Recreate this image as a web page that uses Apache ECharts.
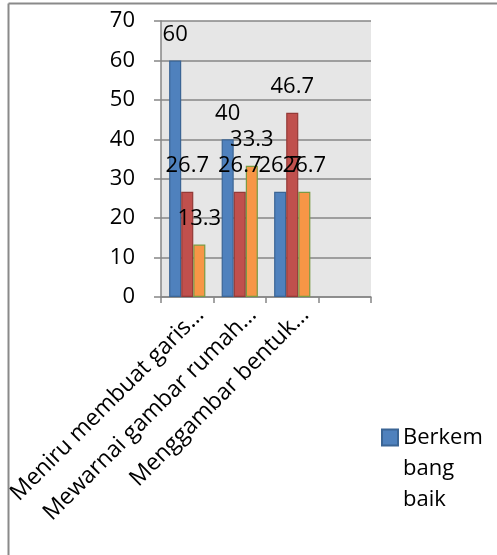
<!DOCTYPE html>
<html>
<head>
<meta charset="utf-8">
<style>
  html, body { margin: 0; padding: 0; background: #ffffff; }
  #chart { width: 497px; height: 555px; }
</style>
<script src="https://cdn.jsdelivr.net/npm/echarts@6/dist/echarts.min.js"></script>
</head>
<body>
<div id="chart"></div>
<script>
// Skill categories on the x axis (the fourth slot is left blank)
const categories = ['Meniru membuat garis…', 'Mewarnai gambar rumah…', 'Menggambar bentuk…', ''];

// Percentages per assessment level
const seriesNames = ['Berkembang baik', 'Mulai berkembang', 'Belum berkembang'];
const valuesBaik = [60, 40, 26.7, null];
const valuesMulai = [26.7, 26.7, 46.7, null];
const valuesBelum = [13.3, 33.3, 26.7, null];

// Y axis scale
const yMin = 0;
const yMax = 70;
const yStep = 10;

// Legend entry wrapped over three lines; the two leading blank lines keep
// the first text line level with the swatch.
const legendLabel = '\n\nBerkem\nbang\nbaik';

const FONT = '"Open Sans", "Noto Sans", sans-serif';
const AXIS_GRAY = '#868686';

const fills = ['#4f81bd', '#c0504d', '#f79646'];
const edges = ['#3b6595', '#943a37', '#7a9a43'];
const allValues = [valuesBaik, valuesMulai, valuesBelum];

const chart = echarts.init(document.getElementById('chart'), null, { renderer: 'canvas' });

const series = allValues.map((vals, i) => ({
  name: seriesNames[i],
  type: 'bar',
  data: vals,
  barGap: '0%',
  barCategoryGap: '31%',
  itemStyle: { color: fills[i], borderColor: edges[i], borderWidth: 1.2 },
  label: {
    show: true,
    position: 'top',
    distance: 15,
    fontFamily: FONT,
    fontSize: 22,
    color: '#000000'
  }
}));

chart.setOption({
  animation: false,
  backgroundColor: '#ffffff',
  textStyle: { fontFamily: FONT },
  graphic: [
    // chart area frame (top and left edges)
    { type: 'line', shape: { x1: 8.5, y1: 3.5, x2: 497, y2: 3.5 }, style: { stroke: '#8a8a8a', lineWidth: 2 }, z: 10 },
    { type: 'line', shape: { x1: 8.5, y1: 3.5, x2: 8.5, y2: 555 }, style: { stroke: '#8a8a8a', lineWidth: 2 }, z: 10 }
  ],
  grid: {
    left: 161,
    right: 126,
    top: 21,
    bottom: 258,
    containLabel: false,
    outerBoundsMode: 'none',
    show: true,
    backgroundColor: '#e6e6e6',
    borderWidth: 0
  },
  legend: {
    data: [seriesNames[0]],
    left: 376,
    top: 355,
    orient: 'vertical',
    icon: 'rect',
    itemWidth: 16,
    itemHeight: 16,
    itemGap: 6,
    formatter: () => legendLabel,
    textStyle: {
      fontFamily: FONT,
      fontSize: 22,
      color: '#000000',
      lineHeight: 31
    }
  },
  xAxis: {
    type: 'category',
    data: categories,
    boundaryGap: true,
    axisLine: { show: true, lineStyle: { color: AXIS_GRAY, width: 1.5 } },
    axisTick: { show: true, alignWithLabel: false, length: 6, lineStyle: { color: AXIS_GRAY, width: 1.5 } },
    axisLabel: {
      rotate: 45,
      margin: 6,
      interval: 0,
      verticalAlign: 'top',
      padding: [3.5, -3.5, 0, 0],
      fontFamily: FONT,
      fontSize: 23,
      color: '#000000'
    }
  },
  yAxis: {
    type: 'value',
    min: yMin,
    max: yMax,
    interval: yStep,
    axisLine: { show: true, lineStyle: { color: AXIS_GRAY, width: 1.5 } },
    axisTick: { show: true, length: 7, lineStyle: { color: AXIS_GRAY, width: 1.5 } },
    splitLine: { show: true, lineStyle: { color: AXIS_GRAY, width: 1.5 } },
    axisLabel: {
      margin: 26,
      fontFamily: FONT,
      fontSize: 22,
      color: '#000000'
    }
  },
  series: series
});
</script>
</body>
</html>
